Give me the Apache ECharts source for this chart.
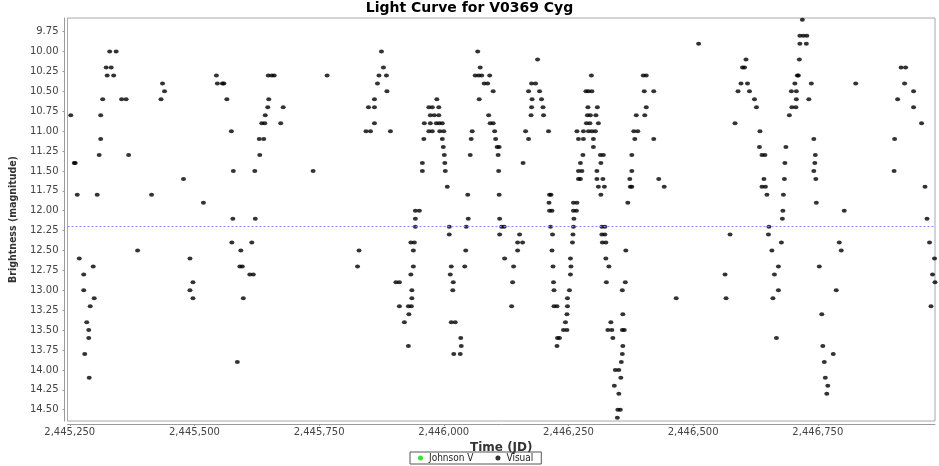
<!DOCTYPE html>
<html>
<head>
<meta charset="utf-8">
<script src="https://cdn.jsdelivr.net/npm/echarts@6/dist/echarts.min.js"></script>
<style>
html,body{margin:0;padding:0;background:#fff;}
#chart{width:939px;height:466px;}
</style>
</head>
<body>
<div id="chart"></div>
<script>
// ---- data ----
const chartTitle = 'Light Curve for V0369 Cyg';
const xName = 'Time (JD)';
const yName = 'Brightness (magnitude)';
const seriesNames = ['Johnson V', 'Visual'];
const jdBase = 2445250;
const xTicks = [2445250, 2445500, 2445750, 2446000, 2446250, 2446500, 2446750];
const yTicks = [9.75, 10.00, 10.25, 10.50, 10.75, 11.00, 11.25, 11.50, 11.75, 12.00, 12.25, 12.50, 12.75, 13.00, 13.25, 13.50, 13.75, 14.00, 14.25, 14.50];
const xRange = [2445245.5, 2446985];
const yRange = [9.578, 14.642];
const referenceMag = 12.2;
const johnsonVDay = [];
const johnsonVMag = [];
// Visual observations: day offset from jdBase, magnitude
const visualDay = [
2,9,11,15,19,28,28,41,34,38,38,30,39,47,49,55,59,62,62,66,73,75,80,83,88,93,104,113,118,136,
164,183,186,190,228,241,247,241,247,268,294,296,306,309,315,324,328,327,325,336,343,341,346,348,365,361,368,371,372,381,
380,389,385,391,392,397,399,398,405,410,423,
428,488,516,577,580,594,603,599,611,611,611,617,620,625,629,635,636,643,654,661,661,671,679,680,679,685,686,686,684,689,
689,684,691,693,693,693,701,707,707,710,711,720,727,723,731,720,727,723,736,740,740,735,741,747,742,750,747,749,751,752,
753,757,761,761,765,763,769,768,765,773,784,785,770,783,794,792,795,799,798,803,805,807,818,823,813,820,826,831,838,842,
849,821,840,843,849,852,854,857,861,859,860,861,862,862,
866,871,872,888,886,890,898,898,908,902,909,914,920,925,926,927,920,926,934,938,942,946,949,950,960,962,965,961,962,967,
964,968,967,969,970,971,971,977,978,982,977,994,990,997,997,998,998,1002,1004,1005,1004,1008,1009,1010,1011,1010,1016,1010,1017,1020,
1024,1020,1027,1024,1029,1020,1030,1017,1030,1040,1047,1054,1036,1043,1060,1038,1044,1055,1039,1058,1035,1040,1047,1046,1050,1050,1064,1070,1065,1057,
1057,1069,1060,1072,1065,1067,1073,1067,1073,1068,1075,1075,1081,1076,1079,1087,1085,1089,1094,1101,1105,1092,1101,1099,1104,1098,1106,1108,1109,1108,
1112,1109,1108,1114,1115,1119,1124,1127,1123,1127,1127,1133,1131,1139,1136,1153,1156,1152,1150,1156,1171,1171,1181,
1192,1216,1261,1314,1316,1324,1334,1340,1346,1349,1353,1356,1359,1363,1373,1377,1384,1383,1388,1394,1392,1388,1395,1398,1402,1401,1408,1421,1413,1421,
1410,1417,1427,1429,1430,1431,1433,1434,1436,1443,1448,1456,1457,1447,1457,1454,1459,1461,1463,1464,1464,
1469,1471,1478,1477,1487,1482,1492,1495,1494,1492,1496,1497,1503,1508,1510,1513,1515,1520,1518,1531,1537,1543,1547,1553,1576,1654,1653,1660,1667,1676,
1674,1692,1692,1708,1715,1719,1724,1734,1730,1735,1727
];
const visualMag = [
10.8,11.4,11.4,11.8,12.6,12.8,13.0,13.2,13.4,13.5,13.6,13.8,14.1,12.7,13.1,11.8,11.3,11.1,10.8,10.6,10.2,10.3,10.0,10.2,10.3,10.0,10.6,10.6,11.3,12.5,
11.8,10.6,10.4,10.5,11.6,12.6,12.9,13.0,13.1,11.9,10.3,10.4,10.4,10.4,10.6,11.0,11.5,12.1,12.4,13.9,12.5,12.7,12.7,13.1,12.4,12.8,12.8,11.5,12.1,11.3,
11.1,11.1,10.9,10.9,10.8,10.7,10.6,10.3,10.3,10.3,10.9,
10.7,11.5,10.3,12.7,12.5,11.0,11.0,10.7,10.7,10.9,10.6,10.4,10.3,10.0,10.2,10.3,10.5,11.0,12.9,12.9,13.2,13.4,13.7,13.3,13.2,13.2,13.1,13.0,12.8,12.7,
12.5,12.4,12.4,12.2,12.1,12.0,12.0,11.5,11.4,11.1,10.9,10.7,10.7,10.8,10.8,11.0,11.0,10.9,10.6,10.7,10.8,10.9,10.9,10.9,11.0,11.0,11.1,11.2,11.3,11.4,
11.5,11.7,12.2,12.3,12.7,12.8,12.9,13.0,13.4,13.4,13.6,13.7,13.8,13.8,12.5,12.7,12.2,12.1,11.8,11.3,11.1,11.0,10.0,10.2,10.3,10.3,10.3,10.4,10.4,10.3,
10.5,10.6,10.8,10.9,10.9,11.0,11.1,11.2,11.2,11.3,11.5,11.8,12.1,12.3,
12.2,12.2,12.6,12.9,13.2,12.7,12.5,12.4,12.4,12.3,11.4,11.0,11.1,10.8,10.7,10.6,10.5,10.4,10.4,10.1,10.5,10.6,10.7,10.8,11.0,11.8,11.8,11.9,12.0,12.0,
12.2,12.3,12.5,12.7,12.9,13.0,13.2,13.2,13.6,13.6,13.7,13.4,13.5,13.5,13.3,13.2,13.1,13.0,12.8,12.7,12.6,12.4,12.3,12.2,12.1,12.0,12.0,11.9,11.9,11.6,
11.6,11.5,11.5,11.4,11.3,11.1,11.1,11.0,11.0,11.0,11.0,11.0,10.9,10.9,10.9,10.8,10.8,10.8,10.7,10.7,10.5,10.5,10.5,10.3,11.2,11.1,11.3,11.3,11.4,11.5,
11.6,11.6,11.7,11.7,11.8,12.2,12.2,12.3,12.3,12.4,12.4,12.6,12.7,12.9,13.5,13.5,13.4,13.6,14.0,14.0,14.1,14.2,14.3,14.5,14.5,14.6,13.9,13.8,13.7,13.5,
13.5,13.3,13.0,12.9,12.5,11.9,11.7,11.7,11.6,11.5,11.3,11.1,11.0,11.0,10.8,10.8,10.7,10.5,10.3,10.3,10.5,11.1,11.6,
11.7,13.1,9.9,12.8,13.1,12.3,10.9,10.5,10.4,10.2,10.2,10.1,10.4,10.5,10.6,10.7,11.0,11.2,11.3,11.3,11.6,11.7,11.7,11.8,12.2,12.3,12.5,12.7,12.8,13.0,
13.1,13.6,12.4,12.1,12.0,11.8,11.6,11.4,11.2,10.8,10.7,10.7,10.6,10.5,10.5,10.4,10.3,10.3,10.1,9.9,9.8,
9.6,9.8,9.8,9.9,10.4,10.6,11.1,11.3,11.4,11.5,11.6,11.9,12.7,13.3,13.7,13.9,14.1,14.2,14.3,13.8,13.0,12.4,12.5,12.0,10.4,11.1,11.5,10.6,10.2,10.2,
10.4,10.5,10.7,10.9,11.7,12.1,12.4,12.6,12.8,12.9,13.2
];

// ---- chart ----
const visualData = visualDay.map((d, i) => [jdBase + d, visualMag[i]]);
const johnsonData = johnsonVDay.map((d, i) => [jdBase + d, johnsonVMag[i]]);
const fmtX = v => String(Math.round(v)).replace(/\B(?=(\d{3})+(?!\d))/g, ',');
const axisGray = '#9a9a9a';
const labelFont = {color: '#444', fontSize: 10, fontFamily: 'DejaVu Sans'};

const chart = echarts.init(document.getElementById('chart'), null, {renderer: 'canvas'});
chart.setOption({
  animation: false,
  backgroundColor: '#fff',
  title: {
    text: chartTitle, left: 'center', top: -1, padding: [2, 0],
    textStyle: {fontFamily: 'DejaVu Sans', fontWeight: 'bold', fontSize: 14, color: '#000'}
  },
  legend: {
    data: seriesNames, left: 410, top: 452, icon: 'circle', itemWidth: 5, itemHeight: 5,
    itemGap: 22, padding: [1, 8], borderColor: '#555', borderWidth: 1,
    textStyle: {fontFamily: 'DejaVu Sans Condensed', fontSize: 10, color: '#222', padding: [0, 0, 0, 1]}
  },
  grid: {left: 67, right: 4, top: 18, bottom: 45, show: true, borderColor: '#a8a8a8', borderWidth: 1, backgroundColor: '#fff'},
  xAxis: {
    type: 'value', min: xRange[0], max: xRange[1], offset: 3,
    name: xName, nameLocation: 'middle', nameGap: 11,
    nameTextStyle: {fontFamily: 'DejaVu Sans', fontWeight: 'bold', fontSize: 12, color: '#333'},
    axisLine: {show: true, onZero: false, lineStyle: {color: axisGray}},
    axisTick: {show: true, length: 2, customValues: xTicks, lineStyle: {color: axisGray}},
    axisLabel: Object.assign({customValues: xTicks, margin: 3, formatter: fmtX}, labelFont),
    splitLine: {show: false}
  },
  yAxis: {
    type: 'value', inverse: true, min: yRange[0], max: yRange[1], offset: 3,
    name: yName, nameLocation: 'middle', nameGap: 41, nameRotate: 90,
    nameTextStyle: {fontFamily: "'Liberation Sans Narrow', 'DejaVu Sans Condensed', sans-serif", fontWeight: 'bold', fontSize: 10.5, color: '#333'},
    axisLine: {show: true, lineStyle: {color: axisGray}},
    axisTick: {show: true, length: 2, customValues: yTicks, lineStyle: {color: axisGray}},
    axisLabel: Object.assign({customValues: yTicks, margin: 6, formatter: v => v.toFixed(2)}, labelFont),
    splitLine: {show: false}
  },
  series: [
    {name: seriesNames[0], type: 'scatter', data: johnsonData, symbol: 'circle', symbolSize: [5, 4], itemStyle: {color: '#00e000'}},
    {name: seriesNames[1], type: 'scatter', data: visualData, symbol: 'circle', symbolSize: [5, 4], itemStyle: {color: '#000'},
      markLine: {silent: true, symbol: ['none', 'none'], label: {show: false},
        lineStyle: {color: '#8a8aff', type: [2, 2], width: 1},
        data: [{yAxis: referenceMag}]}}
  ]
});
</script>
</body>
</html>
